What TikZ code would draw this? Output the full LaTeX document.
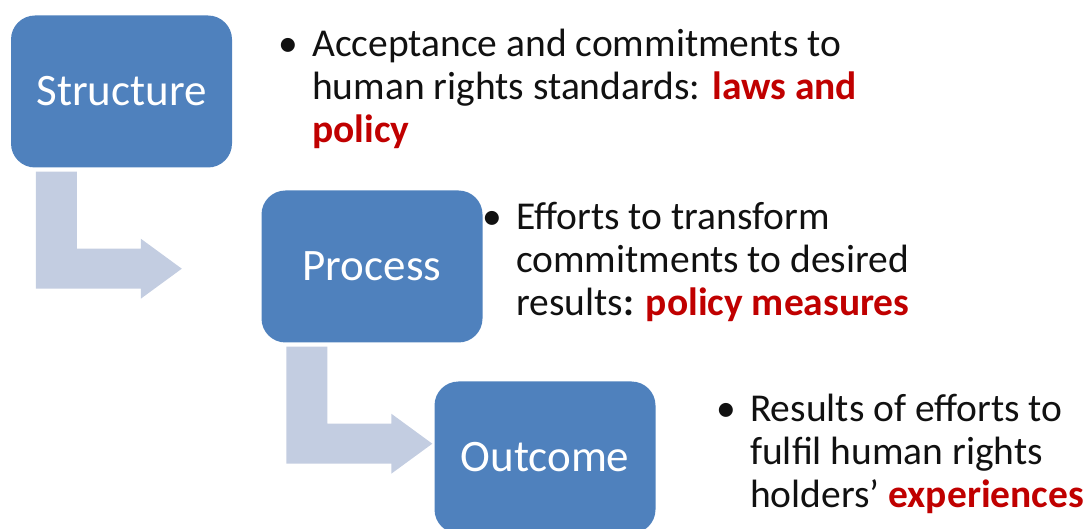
\documentclass[tikz,border=0pt]{standalone}
\usepackage{fontspec}
\setmainfont{Carlito}
\usetikzlibrary{positioning,calc}

\definecolor{boxblue}{HTML}{4F81BD}
\definecolor{arrowgrey}{HTML}{C3CDE1}
\definecolor{keyred}{HTML}{C00000}
\definecolor{inktext}{HTML}{111111}

\newcommand{\keyword}[1]{\textcolor{keyred}{\textbf{#1}}}
\newcommand{\bul}{\llap{\textbullet\hspace{14pt}}}
% bent arrow hanging off the lower left corner of a box
\newcommand{\bendarrow}[1]{%
  \fill[arrowgrey, shift={(#1.south west)}]
    (25,4) -- (66,4) -- (66,81) -- (130,81) -- (130,71) -- (171,101)
    -- (130,131) -- (130,121) -- (25,121) -- cycle;}

\begin{document}
\begin{tikzpicture}[x=1pt, y=-1pt,
    stage/.style={fill=boxblue, rounded corners=24pt, minimum width=221pt,
      minimum height=152pt, text=white, font=\fontsize{45}{50}\selectfont},
    bullets/.style={inner sep=0pt, anchor=north west, align=left, text=inktext,
      font=\fontsize{39.5}{43}\selectfont}]
    \useasboundingbox (0,0) rectangle (1088,529);

    % the three stages
    \node (struct) [stage] at (121.5,91.5) {Structure};
    \node (process) [stage] at (372,266.5) {Process};
    \node (outcome) [stage] at (545,457.5) {Outcome};

    \bendarrow{struct}
    \bendarrow{process}

    % what each stage stands for
    \node (structtxt) [bullets] at (312,29) {\bul Acceptance and commitments to\\
      human rights standards: \keyword{laws and}\\ \keyword{policy}};
    \node (processtxt) [bullets] at (516,202) {\bul Efforts to transform\\
      commitments to desired\\ results\textbf{:} \keyword{policy measures}};
    \node (outcometxt) [bullets] at (750,394) {\bul Results of efforts to\\
      fulfil human rights\\ holders’ \keyword{experiences}};
\end{tikzpicture}
\end{document}
